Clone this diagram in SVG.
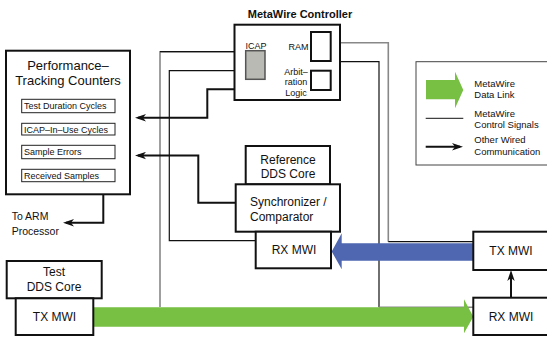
<svg xmlns="http://www.w3.org/2000/svg" width="547" height="337" viewBox="0 0 547 337">
<style>
text{font-family:"Liberation Sans",Arial,sans-serif;fill:#111}
.n{fill:#fff;stroke:#111;stroke-width:2}
.s{fill:#fff;stroke:#222;stroke-width:1}
.t12{font-size:12px;text-anchor:middle}
.t9{font-size:9px}
.lg{font-size:9.5px}
.c{fill:none;stroke:#111;stroke-width:1.2}
.g{fill:none;stroke:#888;stroke-width:1.6}
.a{fill:none;stroke:#111;stroke-width:2;marker-end:url(#ah)}
</style>
<defs>
<marker id="ah" markerUnits="userSpaceOnUse" markerWidth="12" markerHeight="8" refX="8" refY="4" orient="auto">
<path d="M0,0.3 L11,4 L0,7.7 L3,4 z" fill="#111"/>
</marker>
</defs>

<g id="connectors">
<path class="g" d="M234,51.7 H160 V307"/>
<path class="c" d="M234,51.7 H160"/>
<path class="c" d="M234,70.7 H169.3 V240.7 H255.7"/>
<path class="g" d="M340,42.7 H388.3 V241.7"/>
<path class="c" d="M388.3,241.7 H473.3"/>
<path class="c" d="M340,61.7 H379 V307.3"/>
<path class="g" d="M379,307.3 H473.3"/>
<path class="a" d="M235,89.3 H207.3 V117.7 H138"/>
<path class="a" d="M235.7,202.7 H198.3 V155.5 H138"/>
<path class="a" d="M103.3,194.3 V222.7 H66"/>
<path class="a" d="M511,297.7 V273"/>
<polygon id="blue-link" points="473.3,243.3 341.7,243.3 341.7,233.3 331.7,251.5 341.7,269.3 341.7,260.7 473.3,260.7" fill="#4f67b1"/>
<polygon id="green-link" points="93.3,307.3 464,307.3 464,299.3 473.3,316.8 464,333.3 464,326.7 93.3,326.7" fill="#77c043"/>
</g>

<g id="controller">
<text x="300" y="18" style="font-size:11px;font-weight:bold;text-anchor:middle">MetaWire Controller</text>
<rect class="n" x="234.5" y="24.7" width="105.5" height="75.3"/>
<text x="256" y="48.5" class="t9" text-anchor="middle">ICAP</text>
<rect x="245.7" y="50.7" width="19.3" height="28.6" fill="#b9bab3" stroke="#555" stroke-width="1.5"/>
<text x="298.5" y="50" class="t9" text-anchor="middle">RAM</text>
<rect class="n" x="311" y="32" width="19.7" height="29"/>
<text x="296" y="74.5" class="t9" text-anchor="middle">Arbit–</text>
<text x="296" y="85" class="t9" text-anchor="middle">ration</text>
<text x="296" y="95.5" class="t9" text-anchor="middle">Logic</text>
<rect class="n" x="311" y="70.7" width="19.7" height="19.3"/>
</g>

<g id="counters">
<rect class="n" x="6" y="50.7" width="124" height="143.6"/>
<text x="68" y="69.5" style="font-size:13px;text-anchor:middle">Performance–</text>
<text x="68" y="85" style="font-size:13px;text-anchor:middle">Tracking Counters</text>
<rect class="s" x="21.7" y="99.3" width="93.3" height="13.4"/>
<text x="24" y="109.3" class="t9">Test Duration Cycles</text>
<rect class="s" x="21.7" y="123.3" width="93.3" height="11.7"/>
<text x="24" y="132.5" class="t9">ICAP–In–Use Cycles</text>
<rect class="s" x="21.7" y="145.3" width="93.3" height="13.4"/>
<text x="24" y="155.3" class="t9">Sample Errors</text>
<rect class="s" x="21.7" y="169.3" width="93.3" height="12.4"/>
<text x="24" y="178.8" class="t9">Received Samples</text>
</g>

<g id="arm-label">
<text x="11.7" y="219.5" style="font-size:10.5px">To ARM</text>
<text x="11.7" y="234.5" style="font-size:10.5px">Processor</text>
</g>

<g id="legend">
<rect x="416" y="61.7" width="132" height="103.3" fill="#fff" stroke="#444" stroke-width="1"/>
<polygon points="426,80 455,80 455,71.7 463.3,90 455,108.3 455,99.3 426,99.3" fill="#77c043"/>
<text x="474.3" y="86.5" class="lg">MetaWire</text>
<text x="474.3" y="97.5" class="lg">Data Link</text>
<line x1="425.7" y1="118.3" x2="463.3" y2="118.3" stroke="#111" stroke-width="1"/>
<text x="474.3" y="116.5" class="lg">MetaWire</text>
<text x="474.3" y="128.3" class="lg">Control Signals</text>
<path class="a" d="M425.7,146.7 H460"/>
<text x="474.3" y="143.3" class="lg">Other Wired</text>
<text x="474.3" y="155" class="lg">Communication</text>
</g>

<g id="reference-dds">
<rect class="n" x="245.7" y="146" width="84.3" height="38.3"/>
<text x="288" y="163.5" class="t12">Reference</text>
<text x="288" y="177.5" class="t12">DDS Core</text>
</g>

<g id="synchronizer">
<rect class="n" x="235.7" y="184.3" width="104.3" height="47.4"/>
<text x="250" y="206" style="font-size:12px">Synchronizer /</text>
<text x="250" y="220.5" style="font-size:12px">Comparator</text>
</g>

<g id="rx-mwi-mid">
<rect class="n" x="255.7" y="231.7" width="75.3" height="36.6"/>
<text x="294" y="254" class="t12">RX MWI</text>
</g>

<g id="tx-mwi-right">
<rect class="n" x="473.3" y="231.7" width="76" height="38.3"/>
<text x="511" y="255" class="t12">TX MWI</text>
</g>

<g id="rx-mwi-right">
<rect class="n" x="473.3" y="297.7" width="76" height="37.3"/>
<text x="511" y="320.5" class="t12">RX MWI</text>
</g>

<g id="test-dds">
<rect class="n" x="6.7" y="261" width="95" height="37.3"/>
<text x="54" y="276" class="t12">Test</text>
<text x="54" y="291" class="t12">DDS Core</text>
</g>

<g id="tx-mwi-left">
<rect class="n" x="15.7" y="298.3" width="77.6" height="36.7"/>
<text x="54.5" y="321" class="t12">TX MWI</text>
</g>
</svg>
